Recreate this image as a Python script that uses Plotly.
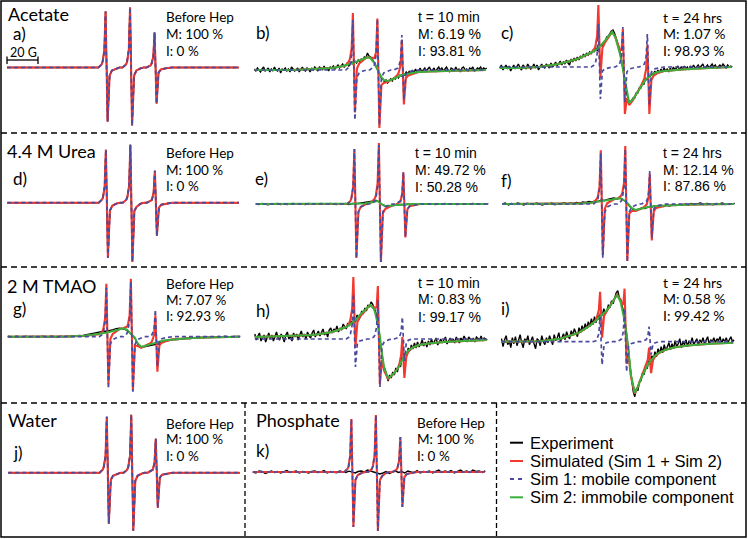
import plotly.graph_objects as go

# ------------------------------------------------------------------ data
# magnetic field offset (G) from the central nitroxide line, simulation grid
FIELD_G = [-80, -68, -55, -42, -30, -24, -21,
           -19.0, -18.3, -17.2, -16.4, -15.1, -13.8, -12.3, -9.8,
           -7.5, -5.5,
           -3.2, -2.5, -1.4, -0.6, 0.7, 2.0, 3.5, 6.0,
           8.0, 10.0,
           12.6, 13.3, 14.4, 15.2, 16.5, 17.8, 19.3, 21.8,
           26, 32, 42, 55, 69.5]

# Sim 1 : mobile component (intensity, a.u.)
MOB_A = [0,0,0,0,0,0,0, 3,6,17,56,-54,-8,-3,-1, 0,0, 3,6,18,60,-58,-8,-3,-1, 0,0, 2,4,11,35,-36,-5,-2,-1, 0,0,0,0,0]
MOB_B = [0,0,0,0,0,0,0, 3,5,15,50,-50,-7,-3,-1, 0,0, 3,5,15,51,-55,-8,-3,-1, 0,0, 2,4,11,35,-30,-4,-2,-1, 0,0,0,0,0]
MOB_C = [0,0,0,0,0,0,0, 2,4,13,43,-32,-4,-2,-1, 0,0, 2,4,12,40,-35,-5,-2,-1, 0,0, 2,3,10,33,-38,-5,-2,-1, 0,0,0,0,0]
MOB_D = [0,0,0,0,0,0,0, 3,5,16,53,-55,-8,-3,-1, 0,0, 3,6,17,58,-59,-8,-4,-1, 0,0, 2,3,10,32,-33,-5,-2,-1, 0,0,0,0,0]
MOB_E = [0,0,0,0,0,0,0, 3,6,17,55,-54,-8,-3,-1, 0,0, 3,6,18,59,-58,-8,-3,-1, 0,0, 2,3,10,32,-33,-5,-2,-1, 0,0,0,0,0]
MOB_F = [0,0,0,0,0,0,0, 3,5,15,51,-54,-8,-3,-1, 0,0, 3,6,17,55,-58,-8,-3,-1, 0,0, 2,3,10,33,-34,-5,-2,-1, 0,0,0,0,0]
MOB_G = [0,0,0,0,0,0,0, 2,5,15,49,-52,-7,-3,-1, 0,0, 3,6,17,55,-55,-8,-3,-1, 0,0, 1,3,8,27,-30,-4,-2,-1, 0,0,0,0,0]
MOB_H = [0,0,0,0,0,0,0, 2,5,14,45,-28,-4,-2,-1, 0,0, 2,4,12,39,-48,-7,-3,-1, 0,0, 1,2,7,22,-22,-3,-1,0, 0,0,0,0,0]
MOB_I = [0,0,0,0,0,0,0, 1,3,8,25,-23,-3,-1,0, 0,0, 2,3,10,33,-30,-4,-2,-1, 0,0, 1,2,5,15,-13,-2,-1,0, 0,0,0,0,0]
MOB_J = [0,0,0,0,0,0,0, 3,6,17,56,-51,-7,-3,-1, 0,0, 3,6,17,58,-58,-8,-3,-1, 0,0, 2,3,10,34,-35,-5,-2,-1, 0,0,0,0,0]
MOB_K = [0,0,0,0,0,0,0, 3,5,16,53,-55,-8,-3,-1, 0,0, 3,6,17,57,-59,-8,-4,-1, 0,0, 2,4,11,35,-35,-5,-2,-1, 0,0,0,0,0]

# Sim 2 : immobile component (intensity, a.u.)
IMM_B = [0,0,0,1,2,3.5,4.5, 5.5,6,6.5,7,7.5,8.5,9.5,11, 12.5,12.5, 9,7,3,0.5,-3,-7,-10,-11, -10,-8.5, -6.5,-6,-5.5,-5,-4.5,-4,-3.5,-3, -2,-1.5,-1,-0.5,0]
IMM_C = [-1,-1,0,3,8,12,14, 16,17,18,19,21,23,26,31, 35,30, 18,13,5,-2,-12,-26,-36,-32, -27,-22, -16,-14,-12,-11,-9,-8,-6.5,-5, -4,-3,-2,-1,0]
IMM_E = [0,0,0,0,0,0,0, 0,0,0,0,0,0,0.3,0.6, 1,1.5, 2.5,3,3,2,0,-1.2,-2,-2, -1.5,-1, -0.7,-0.6,-0.5,-0.5,-0.4,-0.3,-0.2,-0.1, 0,0,0,0,0]
IMM_F = [0,0,0,0.3,0.6,1,1.5, 2,2.2,2.5,2.7,3,3.3,3.7,4.3, 5,5.5, 5.5,5,4,3,1,-1.5,-4,-6, -5.5,-4.5, -3.5,-3.2,-3,-2.8,-2.5,-2.3,-2,-1.8, -1.5,-1,-0.5,-0.3,0]
IMM_G = [0,0,0,0.3,1,2,2.5, 3,3.3,3.7,4,4.5,5,5.7,6.8, 8,8.4, 7,6,4.5,3,1,-1,-6,-10, -9.5,-8.5, -7,-6.5,-6,-5.7,-5,-4.7,-4.2,-3.5, -2.7,-2,-1,-0.5,0]
IMM_H = [2,2.5,3,4,7,10,12, 14,15,16,17,19,21,24,28, 31,34, 30,27,20,14,3,-14,-29,-39, -37,-34, -29,-27,-23,-20,-17,-14,-11,-8.5, -6,-4.5,-3,-2,-1]
IMM_I = [0,0,0.5,3,9,15,18.5, 21,22,24,25,27,29,31,36, 42,47, 40,36,27,20,8,-10,-33,-51, -45,-37, -28,-26,-23,-21,-18.5,-16,-13.5,-11, -8,-5.5,-3.5,-2,-1]

# Experiment, noisy spectra: field sweep every 1 G from -80 to +70 G
EXP_FIELD_FINE_G = list(range(-80, 71, 1))
EXP_B = [1,-1,2,0,-2,1,3,-1,0,2,
         -2,1,-1,3,0,-1,2,-3,1,0,
         2,-1,1,-2,3,1,-1,0,2,-2,
         1,3,0,-1,2,1,-2,2,0,3,
         1,-1,3,2,0,4,1,2,-1,3,
         2,4,1,3,5,2,4,6,3,5,
         7,4,6,8,5,9,7,10,8,11,
         10,13,12,17,14,13,11,9,6,2,
         -1,-5,-8,-9,-12,-10,-13,-11,-9,-11,
         -8,-9,-6,-8,-5,-6,-3,-5,-2,-4,
         -1,-4,0,-3,1,-2,-1,2,-2,0,
         2,-1,1,3,-1,0,2,-2,1,3,
         0,2,-1,1,3,0,-2,2,1,-1,
         3,0,1,-2,2,3,0,1,-1,2,
         1,3,-1,0,2,1,3,0,2,1,
         2]
EXP_C = [-1,2,-3,0,2,-2,1,-4,0,2,
         -2,1,3,-1,-3,2,0,-2,3,1,
         -2,0,3,-1,2,-3,1,3,0,-1,
         3,1,-1,4,0,2,5,1,3,6,
         2,5,3,7,4,2,8,5,9,6,
         10,7,11,9,13,10,14,12,15,13,
         17,15,19,16,20,22,21,25,26,30,
         31,34,36,37,34,29,25,19,11,3,
         -7,-16,-27,-33,-36,-34,-31,-31,-26,-26,
         -21,-21,-16,-17,-11,-13,-8,-10,-6,-8,
         -4,-7,-3,-6,-2,-5,-1,-4,-2,-5,
         -1,-4,0,-3,-1,1,-3,0,-2,1,
         -2,0,-3,1,-1,2,-1,0,2,-1,
         1,3,-1,0,2,-1,1,3,0,2,
         -1,1,2,0,3,1,-1,2,0,1,
         0]
EXP_H = [5,-1,3,6,-2,2,4,-3,1,6,
         0,4,-2,3,7,1,-1,5,2,-3,
         4,7,0,3,-2,6,2,5,-1,4,
         8,2,5,0,7,3,1,6,9,2,
         5,8,3,6,10,4,7,2,9,11,
         6,10,8,13,7,11,9,15,12,10,
         16,13,18,15,20,17,24,19,22,28,
         25,31,28,34,32,37,35,31,27,20,
         10,-3,-15,-26,-30,-37,-42,-36,-39,-33,
         -36,-29,-33,-25,-28,-18,-22,-14,-17,-9,
         -12,-6,-10,-4,-9,-3,-8,-5,-1,-7,
         -3,-8,-2,-6,0,-5,-2,1,-6,-3,
         0,-4,-1,2,-5,-2,1,-3,0,-4,
         2,-1,-4,1,-2,3,-1,-3,2,0,
         -2,1,-3,2,0,-1,3,-2,1,0,
         -1]
EXP_I = [3,-5,2,6,-3,1,-6,4,-2,5,
         -4,2,7,-1,-6,3,0,6,-3,1,
         5,-2,-7,3,1,-4,6,0,-3,4,
         -1,6,2,-3,7,1,4,9,0,5,
         8,2,10,5,3,11,6,13,8,5,
         14,9,16,11,18,13,20,15,23,17,
         25,19,27,22,30,26,33,28,31,37,
         34,41,38,45,49,51,44,42,34,28,
         16,5,-9,-26,-41,-50,-55,-47,-49,-40,
         -39,-31,-33,-24,-27,-19,-23,-14,-18,-10,
         -15,-7,-12,-5,-11,-3,-9,-5,-1,-8,
         -2,-7,1,-5,-2,3,-6,0,-3,2,
         -5,1,-2,4,-3,0,3,-4,2,-1,
         4,-2,1,5,-3,2,0,4,-1,3,
         1,5,-2,3,0,4,-1,2,5,0,
         2]

# Experiment, low-noise spectra: field sweep every 2 G from -80 to +70 G
EXP_FIELD_G = list(range(-80, 71, 2))
EXP_E = [0,-0.5,0.5,0,-0.7,0.4,0,0.6,-0.4,0.3,-0.6,0,0.5,-0.3,0.2,0,-0.5,0.6,0,
         0.3,-0.4,0.5,0,-0.3,0.6,0,-0.5,0.4,0,0.5,-0.6,0.3,0.8,0.5,1,1.2,1.5,2,
         3,3.5,1.5,-1,-2,-2.5,-1.5,-1,-1,-0.5,-1,0,-0.5,0.3,-0.4,0,0.4,-0.3,0.2,
         0,-0.5,0.4,0,0.6,-0.3,0.2,0,-0.5,0.4,0,0.3,-0.4,0.5,0,-0.3,0.4,0,0.2]
EXP_F = [0,1,-1,0.5,-0.5,1,0,-1,0.8,0,-0.6,1,0,-1,0.5,0,1,-0.8,0.3,
         0.3,1.2,-0.2,1,0.5,1.5,0.8,2,1.5,2.5,2,3,2.5,4,3.5,4.5,5,6,5,
         6,4,2,-2,-5,-6.5,-5,-4,-4.5,-3,-3.5,-2,-3,-1.5,-2.5,-1,-2,-0.5,-1.5,
         -0.5,-1,0,-1,0.5,-0.5,0,1,-0.5,0.5,0,-0.8,0.6,0,1,-0.5,0.4,0,0.5]
EXP_G = [0.5,-0.5,0,0.6,-0.4,0,0.5,-0.6,0.3,0,-0.5,0.6,0,-0.3,0.5,0,-0.6,0.4,0,
         0.6,0,1,0.5,1.2,1,1.8,2.5,3,3.5,4.5,5,5.5,5.5,6,7,8,8.5,8,
         7,5,2,-1.5,-8,-11,-10,-9.5,-9,-8,-7.5,-7,-5,-4,-3.5,-3,-2.5,-2.8,-2,
         -2,-1.5,-1.8,-1,-1.3,-0.5,-1,-0.3,-0.8,0,-0.5,0.3,-0.3,0.4,0,-0.4,0.3,0,0.2]
EXP_K = [0,-1,1,0.5,-1.5,0,1,-0.5,0.5,-1,0,1.5,-0.5,0,1,-1,0.5,0,-1,
         0.5,1,-0.5,0,1.5,-1,0.5,0,-0.8,1,0,-0.5,0.8,0,-1,0.5,1,0,2,
         1,0,-1,-2,-1,0.5,-1.5,0,1,-0.5,0.5,-1,1,0,-0.5,1.5,-1,0.5,0,
         1,-1,0.5,2,-0.5,1,0,1.5,-1,0.5,2,0,1,-0.5,2,0.5,1,-0.5,1]

SCALE_BAR_G = 20
SOLVENT_LABELS = ["Acetate", "4.4 M Urea", "2 M TMAO", "Water", "Phosphate"]
PANEL_LETTERS = ["a)", "b)", "c)", "d)", "e)", "f)", "g)", "h)", "i)", "j)", "k)"]
PANEL_INFO = [
    ["Before Hep", "M: 100 %", "I: 0 %"],
    ["t = 10 min", "M: 6.19 %", "I: 93.81 %"],
    ["t = 24 hrs", "M: 1.07 %", "I: 98.93 %"],
    ["Before Hep", "M: 100 %", "I: 0 %"],
    ["t = 10 min", "M: 49.72 %", "I: 50.28 %"],
    ["t = 24 hrs", "M: 12.14 %", "I: 87.86 %"],
    ["Before Hep", "M: 7.07 %", "I: 92.93 %"],
    ["t = 10 min", "M: 0.83 %", "I: 99.17 %"],
    ["t = 24 hrs", "M: 0.58 %", "I: 99.42 %"],
    ["Before Hep", "M: 100 %", "I: 0 %"],
    ["Before Hep", "M: 100 %", "I: 0 %"],
]
LEGEND_LABELS = ["Experiment", "Simulated (Sim 1 + Sim 2)",
                 "Sim 1: mobile component", "Sim 2: immobile component"]

# ------------------------------------------------------------------ style / geometry
W, H = 748, 539
PX_PER_G = 1.55
COLS = [(1, 245), (245, 497), (497, 746)]
ROWS = [(1, 133), (133, 267), (267, 403), (403, 537)]
C_EXP, C_SIM, C_MOB, C_IMM = "#000000", "#F2382F", "#4A4A9E", "#3BAF3B"
LATO, ARIAL = "Lato, sans-serif", "Liberation Sans, Arial, sans-serif"
TXT_PAD = 2.5  # annotation inner padding compensation (px)

F, C = "fine", "coarse"
PANELS = [
    # row, col, centre px, baseline px, mob, imm, (exp grid, exp), letter pos, info x, info ys, info font
    (0, 0, 131.0, 67.5, MOB_A, None, None, (13, 34), 166.7, [17, 33.5, 50.5], LATO, 13.5),
    (0, 1, 378.3, 70.0, MOB_B, IMM_B, (F, EXP_B), (256.5, 33), 418.3, [17, 33.5, 51], ARIAL, 14),
    (0, 2, 623.8, 67.0, MOB_C, IMM_C, (F, EXP_C), (502, 33), 663.3, [17.5, 33.5, 50.5], LATO, 14),
    (1, 0, 131.3, 202.7, MOB_D, None, None, (13, 178), 166.7, [153, 169.5, 186], LATO, 13.5),
    (1, 1, 379.8, 204.0, MOB_E, IMM_E, (C, EXP_E), (255, 178), 415, [153, 170, 186.5], ARIAL, 14),
    (1, 2, 626.2, 204.0, MOB_F, IMM_F, (C, EXP_F), (502, 180), 663.3, [153, 169.5, 186], ARIAL, 14),
    (2, 0, 131.8, 336.7, MOB_G, IMM_G, (C, EXP_G), (13, 308.5), 166.7, [283.5, 299.5, 316], LATO, 13.5),
    (2, 1, 378.8, 339.0, MOB_H, IMM_H, (F, EXP_H), (256.5, 310), 418.3, [282.5, 299, 316.5], ARIAL, 14),
    (2, 2, 625.5, 341.7, MOB_I, IMM_I, (F, EXP_I), (502, 308.5), 663.3, [282, 298.5, 315], LATO, 14),
    (3, 0, 132.2, 472.7, MOB_J, None, None, (13, 452), 166.7, [423.5, 439.5, 456], LATO, 13.5),
    (3, 1, 376.8, 472.0, MOB_K, None, (C, EXP_K), (256.5, 450), 417.7, [423, 439.5, 456], LATO, 13.5),
]


def px(x):
    return x / W


def py(y):
    return 1 - y / H


fig = go.Figure()
layout = {}
annotations = []
shapes = []


def ann(text, x, y, size, family, xanchor="left"):
    if xanchor == "left":
        x -= TXT_PAD
    annotations.append(dict(text=text, x=px(x), y=py(y), xref="paper", yref="paper",
                            xanchor=xanchor, yanchor="middle", showarrow=False,
                            font=dict(size=size, family=family, color="black")))


for n, (r, c, cx, by, mob, imm, exp, lpos, ix, iys, ifont, isize) in enumerate(PANELS, start=1):
    L, R = COLS[c]
    T, B = ROWS[r]
    xa = "x" if n == 1 else f"x{n}"
    ya = "y" if n == 1 else f"y{n}"
    sim = [m + i for m, i in zip(mob, imm)] if imm else mob
    common = dict(xaxis=xa, yaxis=ya, mode="lines", hoverinfo="skip", showlegend=False)
    if exp is not None:
        grid = EXP_FIELD_FINE_G if exp[0] == F else EXP_FIELD_G
        fig.add_trace(go.Scatter(x=grid, y=exp[1], line=dict(color=C_EXP, width=1.4), **common))
    else:
        fig.add_trace(go.Scatter(x=FIELD_G, y=sim, line=dict(color=C_EXP, width=1.4), **common))
    fig.add_trace(go.Scatter(x=FIELD_G, y=sim, line=dict(color=C_SIM, width=2.1), **common))
    if imm:
        fig.add_trace(go.Scatter(x=FIELD_G, y=imm, line=dict(color=C_IMM, width=2.0), **common))
    fig.add_trace(go.Scatter(x=FIELD_G, y=mob, line=dict(color=C_MOB, width=1.7, dash="4px,3px"), **common))

    layout["xaxis" if n == 1 else f"xaxis{n}"] = dict(
        domain=[px(L), px(R)], range=[(L - cx) / PX_PER_G, (R - cx) / PX_PER_G],
        visible=False, fixedrange=True, anchor=ya)
    layout["yaxis" if n == 1 else f"yaxis{n}"] = dict(
        domain=[py(B), py(T)], range=[-(B - by), by - T],
        visible=False, fixedrange=True, anchor=xa)

    ann(PANEL_LETTERS[n - 1], lpos[0], lpos[1], 17, LATO)
    for line, yy in zip(PANEL_INFO[n - 1], iys):
        ann(line, ix, yy, isize, ifont)

# solvent labels
for lab, (x, y) in zip(SOLVENT_LABELS, [(8, 14.5), (7, 151.5), (7, 285.5), (8, 419.5), (256.5, 419.5)]):
    ann(lab, x, y, 18, LATO)

# scale bar in panel a (data coordinates of panel a)
bar_y = 67.5 - 60
bx0 = -80
shapes.append(dict(type="line", xref="x", yref="y", x0=bx0, x1=bx0 + SCALE_BAR_G, y0=bar_y, y1=bar_y,
                   line=dict(color="black", width=1.3)))
for xb in (bx0, bx0 + SCALE_BAR_G):
    shapes.append(dict(type="line", xref="x", yref="y", x0=xb, x1=xb, y0=bar_y - 4, y1=bar_y + 3.5,
                       line=dict(color="black", width=1.3)))
ann(f"{SCALE_BAR_G} G", 23, 52.5, 12.5, LATO, xanchor="center")

# frame and separators
shapes.append(dict(type="rect", xref="paper", yref="paper", x0=px(1), x1=px(746), y0=py(537), y1=py(1),
                   line=dict(color="black", width=1.5)))
for yy in (133, 267, 403):
    shapes.append(dict(type="line", xref="paper", yref="paper", x0=px(1), x1=px(746), y0=py(yy), y1=py(yy),
                       line=dict(color="black", width=1.5, dash="6px,4px")))
for xx in (245, 496.5):
    shapes.append(dict(type="line", xref="paper", yref="paper", x0=px(xx), x1=px(xx), y0=py(403), y1=py(537),
                       line=dict(color="black", width=1.3, dash="5px,3px")))

# legend
leg_ys = [442.7, 461, 479, 497.3]
leg_styles = [(C_EXP, "solid", 2), (C_SIM, "solid", 2), (C_MOB, "4px,4px", 2), (C_IMM, "solid", 2)]
for lab, yy, (col, dash, wdt) in zip(LEGEND_LABELS, leg_ys, leg_styles):
    shapes.append(dict(type="line", xref="paper", yref="paper", x0=px(510), x1=px(523), y0=py(yy), y1=py(yy),
                       line=dict(color=col, width=wdt, dash=dash)))
    ann(lab, 530, yy, 16.5, ARIAL)

fig.update_layout(
    width=W, height=H, margin=dict(l=0, r=0, t=0, b=0),
    paper_bgcolor="white", plot_bgcolor="rgba(0,0,0,0)",
    annotations=annotations, shapes=shapes, **layout)

fig.write_html("out.html", config={"displayModeBar": False},
               post_script="document.body.style.margin='0';")
